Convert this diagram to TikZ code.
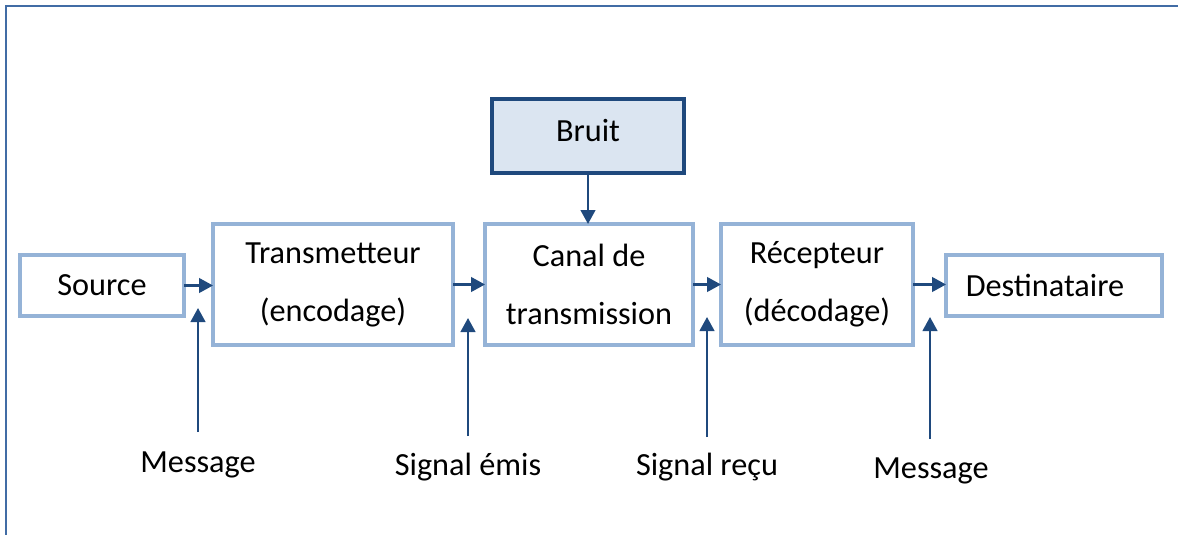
\documentclass[tikz,border=0pt]{standalone}
\usepackage{fontspec}
\setmainfont{Carlito}
\usetikzlibrary{arrows.meta}
\definecolor{arrowblue}{RGB}{31,73,125}
\definecolor{boxblue}{RGB}{149,179,215}
\definecolor{noisefill}{RGB}{219,229,241}
\definecolor{framebl}{RGB}{65,108,165}

\begin{document}
\begin{tikzpicture}[x=0.75pt,y=-0.75pt,
  every node/.style={font=\fontsize{24.2}{43.5}\selectfont, inner sep=0pt, outer sep=0pt},
  stage/.style={draw=boxblue, line width=2.6pt, align=center, minimum height=90.75pt},
  endbox/.style={draw=boxblue, line width=2.6pt, minimum height=45.75pt},
  noise/.style={draw=arrowblue, fill=noisefill, line width=3pt, minimum width=144pt, minimum height=55.5pt, text depth=9pt},
  flow/.style={draw=arrowblue, line width=1.7pt, -{Triangle[length=10.5pt,width=11pt]}},
  caption/.style={anchor=base}
]
\useasboundingbox (0,0) rectangle (1178,535);

% page frame (top and left edges)
\draw[framebl, line width=1.5pt] (6,535) -- (6,6) -- (1178,6);

% chain of stages
\node[endbox, minimum width=123pt] (src) at (102,285.5) {Source};
\node[stage, minimum width=180pt] (tx) at (333,284.5) {Transmetteur\\(encodage)};
\node[stage, minimum width=156pt] (ch) at (589,284.5) {Canal de\\transmission};
\node[stage, minimum width=144pt] (rx) at (817,284.5) {Récepteur\\(décodage)};
\node[endbox, minimum width=162pt] (dst) at (1054,285.5) {Destinataire\hspace*{13.5pt}};

% noise source
\node[noise] (noise) at (588,136) {Bruit};

% captions under the chain
\node[caption] (msgin) at (198,472) {Message};
\node[caption] (sigout) at (468,475) {Signal émis};
\node[caption] (sigin) at (707,475) {Signal reçu};
\node[caption] (msgout) at (931,478) {Message};

% free ends of the vertical arrows
\coordinate (m1a) at (198,432);  \coordinate (m1b) at (198,308);
\coordinate (s1a) at (468,436);  \coordinate (s1b) at (468,318);
\coordinate (s2a) at (707,437);  \coordinate (s2b) at (707,317);
\coordinate (m2a) at (930,439);  \coordinate (m2b) at (930,317);

% horizontal flow
\draw[flow] (src.east) -- (src.east -| tx.west);
\draw[flow] (tx.east) -- (ch.west);
\draw[flow] (ch.east) -- (rx.west);
\draw[flow] (rx.east) -- (rx.east -| dst.west);
\draw[flow] (noise.south) -- (noise.south |- ch.north);

% vertical arrows
\draw[flow] (m1a) -- (m1b);
\draw[flow] (s1a) -- (s1b);
\draw[flow] (s2a) -- (s2b);
\draw[flow] (m2a) -- (m2b);
\end{tikzpicture}
\end{document}
